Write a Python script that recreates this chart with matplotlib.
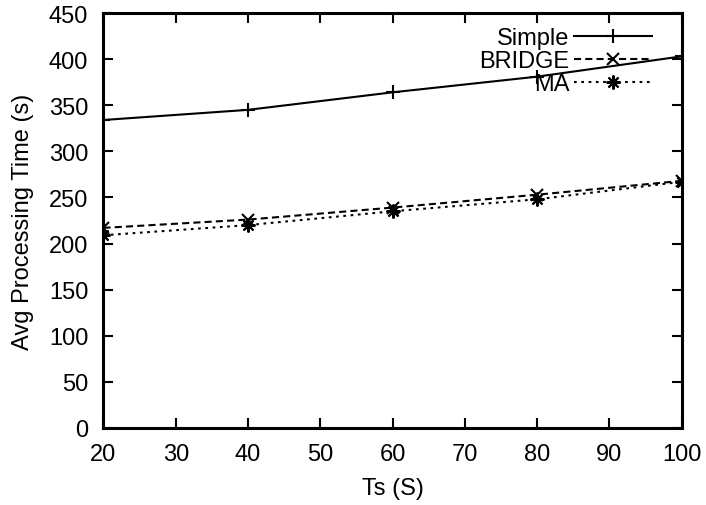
import matplotlib
matplotlib.use("Agg")
import matplotlib.pyplot as plt

ts = [20, 40, 60, 80, 100]
simple = [334, 345, 364, 381, 403]
bridge = [217, 226, 239, 253, 268]
ma = [209, 220, 235, 248, 267]

plt.rcParams['font.family'] = ['Liberation Sans', 'DejaVu Sans']

fs = 17
fig = plt.figure(figsize=(7.06, 5.06), dpi=100)
ax = fig.add_axes([0.1466, 0.1522, 0.819, 0.8201])

lw = 1.5
asterisk = (8, 2, 0)
ax.plot(ts, simple, color='black', lw=lw, marker='+', ms=10, mew=1.5, label='Simple')
ax.plot(ts, bridge, color='black', lw=lw, marker='x', ms=8, mew=1.5,
        dashes=(3.4, 2.0), label='BRIDGE')
ax.plot(ts, ma, color='black', lw=lw, marker=asterisk, ms=10, mew=1.5,
        dashes=(1.3, 2.2), label='MA')

ax.set_xlim(20, 100)
ax.set_ylim(0, 450)
ax.set_xticks(range(20, 101, 10))
ax.set_yticks(range(0, 451, 50))
ax.tick_params(direction='in', length=7, width=1.5, labelsize=fs,
               top=True, right=True)
ax.tick_params(axis='x', pad=10.5)
ax.tick_params(axis='y', pad=11)
for s in ax.spines.values():
    s.set_linewidth(2.2)

ax.set_xlabel('Ts (S)', fontsize=fs, labelpad=9)
ax.set_ylabel('Avg Processing Time (s)', fontsize=fs, labelpad=11)

ax.legend(loc='upper right', bbox_to_anchor=(0.9486, 0.966), frameon=False,
          markerfirst=False, fontsize=fs, handlelength=3.3, handletextpad=0.2,
          labelspacing=0.04, borderpad=0, borderaxespad=0)

fig.savefig('out.png', dpi=100)
